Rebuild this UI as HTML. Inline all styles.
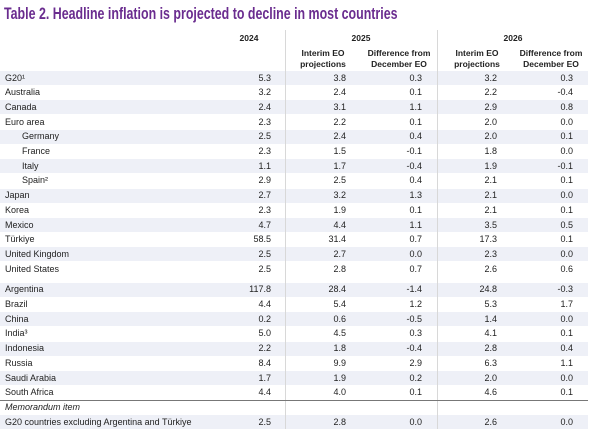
<!DOCTYPE html>
<html><head><meta charset="utf-8">
<style>
html,body{margin:0;padding:0;background:#fff;}
body{width:600px;height:429px;position:relative;overflow:hidden;font-family:"Liberation Sans",Arial,sans-serif;color:#222;}
.title{position:absolute;left:4px;top:4px;font-size:17px;font-weight:bold;color:#6a2c8f;white-space:nowrap;transform:scaleX(0.73);transform-origin:0 0;}
.t{position:absolute;font-size:9px;white-space:nowrap;line-height:11px;}
.h{font-weight:bold;font-size:8.5px;}
.band{position:absolute;left:0;width:588px;background:#eef0f7;}
.vline{position:absolute;width:1px;background:#d8d8d8;}
</style></head>
<body>
<div class="title">Table 2. Headline inflation is projected to decline in most countries</div>
<div class="vline" style="left:285px;top:30px;height:399px"></div>
<div class="vline" style="left:437px;top:30px;height:399px"></div>
<div id="tbl"></div>
<script>
const labels=["G20¹","Australia","Canada","Euro area","Germany","France","Italy","Spain²","Japan","Korea","Mexico","Türkiye","United Kingdom","United States","Argentina","Brazil","China","India³","Indonesia","Russia","Saudi Arabia","South Africa","Memorandum item","G20 countries excluding Argentina and Türkiye"];
const v2024=["5.3","3.2","2.4","2.3","2.5","2.3","1.1","2.9","2.7","2.3","4.7","58.5","2.5","2.5","117.8","4.4","0.2","5.0","2.2","8.4","1.7","4.4","","2.5"];
const v2025=["3.8","2.4","3.1","2.2","2.4","1.5","1.7","2.5","3.2","1.9","4.4","31.4","2.7","2.8","28.4","5.4","0.6","4.5","1.8","9.9","1.9","4.0","","2.8"];
const d2025=["0.3","0.1","1.1","0.1","0.4","-0.1","-0.4","0.4","1.3","0.1","1.1","0.7","0.0","0.7","-1.4","1.2","-0.5","0.3","-0.4","2.9","0.2","0.1","","0.0"];
const v2026=["3.2","2.2","2.9","2.0","2.0","1.8","1.9","2.1","2.1","2.1","3.5","17.3","2.3","2.6","24.8","5.3","1.4","4.1","2.8","6.3","2.0","4.6","","2.6"];
const d2026=["0.3","-0.4","0.8","0.0","0.1","0.0","-0.1","0.1","0.0","0.1","0.5","0.1","0.0","0.6","-0.3","1.7","0.0","0.1","0.4","1.1","0.0","0.1","","0.0"];
const body=document.body;
function add(txt,x,y,align,cls,name){
  const d=document.createElement('div');
  d.className='t '+(cls||'');
  d.textContent=txt;
  
  
  d.style.top=(y-5.5)+'px';
  if(align==='r'){d.style.right=(600-x)+'px';}
  else if(align==='c'){d.style.left=(x-60)+'px';d.style.width='120px';d.style.textAlign='center';}
  else d.style.left=x+'px';
  body.appendChild(d);
  return d;
}
add("2024",249,38,'c','h','header-2024');
add("2025",361,38,'c','h','header-2025');
add("2026",513,38,'c','h','header-2026');
add("Interim EO",323,53,'c','h','header-2025-interim');
add("projections",323,64,'c','h','header-2025-interim-2');
add("Difference from",399,53,'c','h','header-2025-diff');
add("December EO",399,64,'c','h','header-2025-diff-2');
add("Interim EO",477,53,'c','h','header-2026-interim');
add("projections",477,64,'c','h','header-2026-interim-2');
add("Difference from",551,53,'c','h','header-2026-diff');
add("December EO",551,64,'c','h','header-2026-diff-2');
const ys=[];
for(let i=0;i<labels.length;i++){
  let y=78+i*14.7;
  if(i>=14) y+=6;
  if(i>=22) y=407+(i-22)*15;
  ys.push(y);
}
const shaded=[0,2,4,6,8,10,12,14,16,18,20,23];
shaded.forEach(i=>{
  const b=document.createElement('div');
  b.className='band';
  
  
  b.style.top=(ys[i]-7)+'px';b.style.height='14px';
  body.insertBefore(b,body.firstChild);
});
for(let i=0;i<labels.length;i++){
  const y=ys[i];
  const indent=(i>=4&&i<=7)?22:5;
  const l=add(labels[i],indent,y,'l','','row-label');
  if(i===22) l.style.fontStyle='italic';
  add(v2024[i],271,y,'r','','value-2024');
  add(v2025[i],346,y,'r','','value-2025-interim');
  add(d2025[i],422,y,'r','','value-2025-diff');
  add(v2026[i],497,y,'r','','value-2026-interim');
  add(d2026[i],573,y,'r','','value-2026-diff');
}
const ln=document.createElement('div');


ln.style.cssText='position:absolute;left:0;width:588px;height:1px;background:#777;top:'+(ys[21]+7)+'px';
body.appendChild(ln);
</script>
</body></html>
